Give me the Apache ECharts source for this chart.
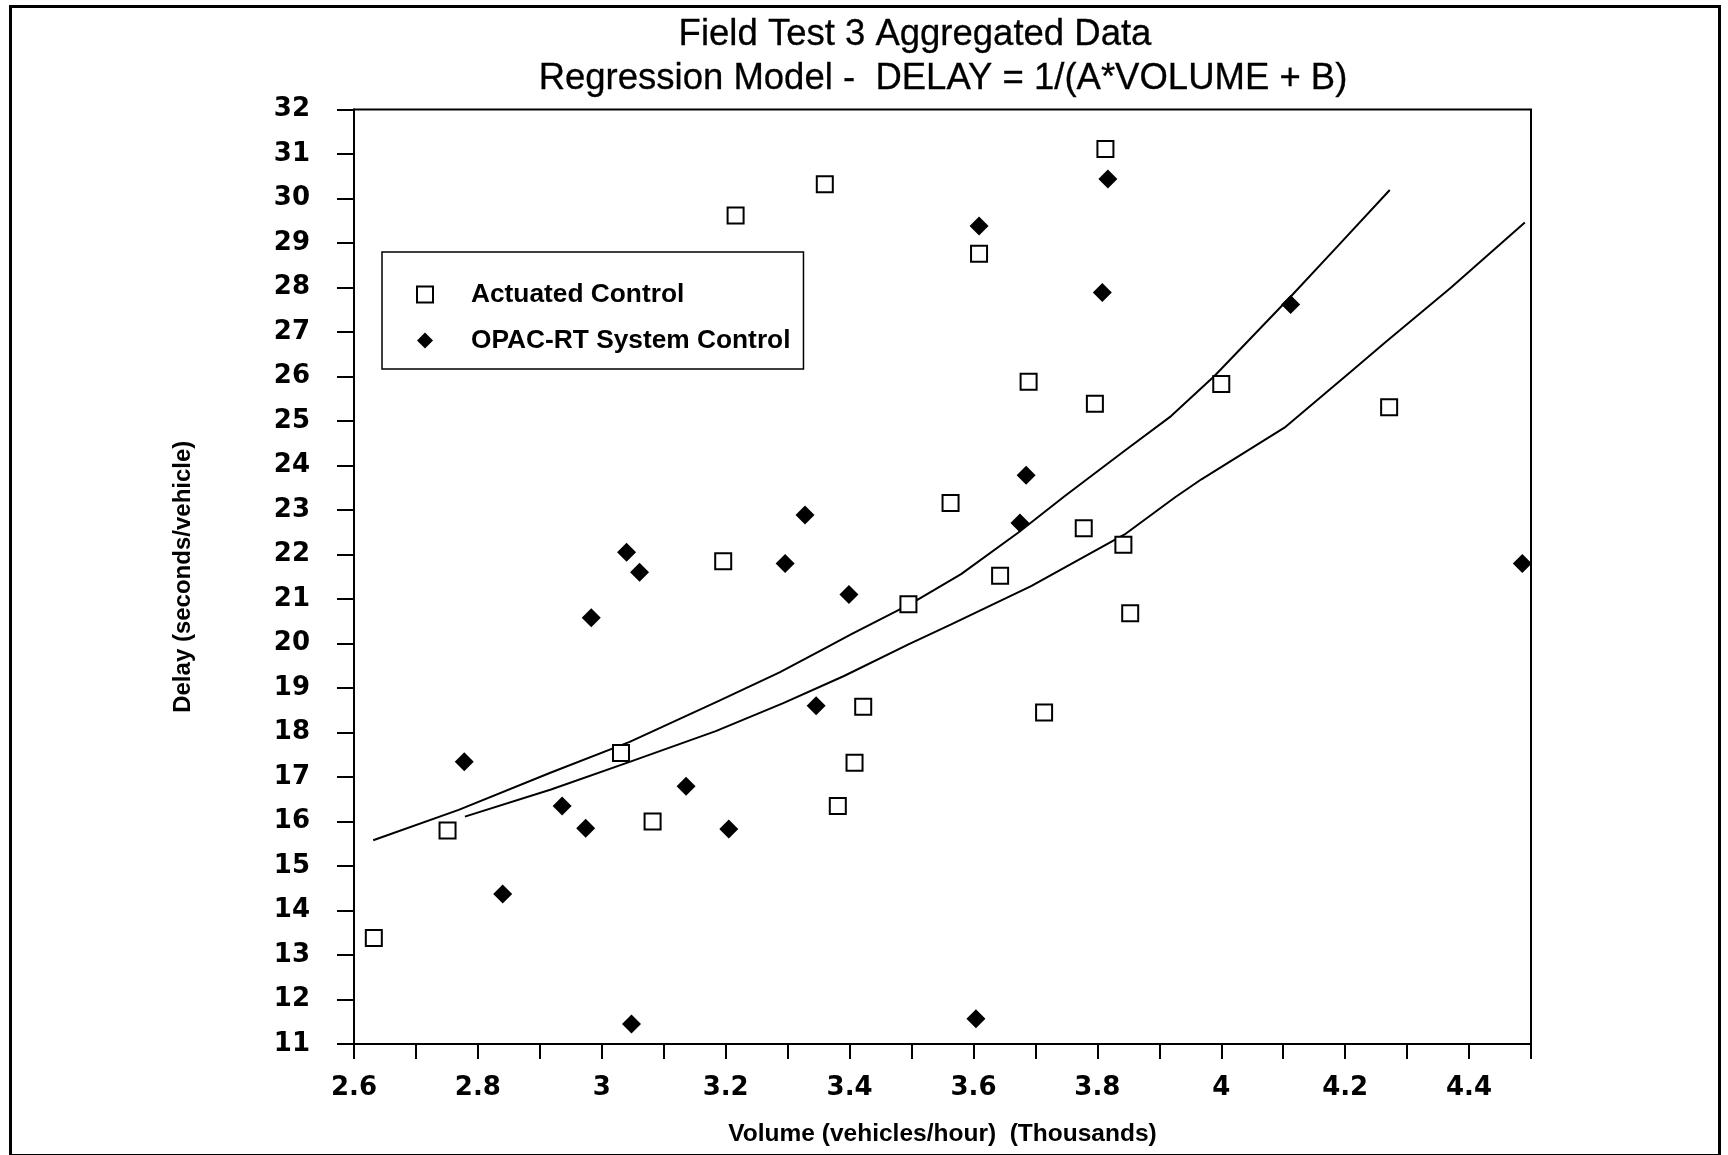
<!DOCTYPE html>
<html>
<head>
<meta charset="utf-8">
<script src="https://cdn.jsdelivr.net/npm/echarts@6/dist/echarts.min.js"></script>
<style>
html,body{margin:0;padding:0;background:#fff;}
#chart{width:1728px;height:1155px;}
</style>
</head>
<body>
<div id="chart"></div>
<script>
// ---- Data ----
const titleLine1 = 'Field Test 3 Aggregated Data';
const titleLine2 = 'Regression Model -  DELAY = 1/(A*VOLUME + B)';
const xAxisName = 'Volume (vehicles/hour)  (Thousands)';
const yAxisName = 'Delay (seconds/vehicle)';
const seriesNames = ['Actuated Control', 'OPAC-RT System Control'];

const actuatedVolume = [2.632,2.751,3.031,3.082,3.196,3.216,3.360,3.381,3.408,3.422,3.495,3.563,3.609,3.643,3.689,3.714,3.778,3.796,3.813,3.842,3.853,4.000,4.271];
const actuatedDelay  = [13.38,15.80,17.54,16.00,21.85,29.62,30.32,16.35,17.32,18.58,20.88,23.16,28.76,21.52,25.88,18.45,22.59,25.39,31.11,22.22,20.68,25.83,25.31];

const opacVolume = [2.778,2.840,2.936,2.974,2.983,3.040,3.048,3.061,3.136,3.205,3.296,3.328,3.346,3.399,3.604,3.609,3.675,3.685,3.808,3.817,4.112,4.486];
const opacDelay  = [17.34,14.37,16.35,15.85,20.58,22.05,11.45,21.60,16.79,15.83,21.80,22.89,18.60,21.10,11.57,29.38,22.71,23.78,27.89,30.44,27.62,21.80];

const actuatedFitVolume = [2.631,2.769,2.918,3.045,3.189,3.287,3.357,3.403,3.497,3.580,3.672,3.747,3.844,3.919,3.989,4.113,4.188,4.272];
const actuatedFitDelay  = [15.58,16.26,17.10,17.79,18.71,19.35,19.87,20.21,20.88,21.56,22.49,23.31,24.33,25.11,26.01,27.81,28.93,30.19];

const opacFitVolume = [2.779,2.918,3.045,3.184,3.293,3.391,3.495,3.564,3.693,3.844,3.925,3.968,4.102,4.210,4.264,4.371,4.490];
const opacFitDelay  = [16.11,16.72,17.34,18.03,18.66,19.27,19.98,20.43,21.29,22.45,23.28,23.69,24.85,26.12,26.76,28.00,29.46];

const xMin = 2.6, xMax = 4.5, xStep = 0.1;
const yMin = 11, yMax = 32, yStep = 1;

function pairs(xs, ys){ return xs.map((x,i)=>[x, ys[i]]); }

const chart = echarts.init(document.getElementById('chart'), null, {renderer:'canvas'});
const SANS = '"Liberation Sans", Arial, Helvetica, sans-serif';
const TICKF = '"DejaVu Sans", "Liberation Sans", sans-serif';

const option = {
  backgroundColor: '#ffffff',
  animation: false,
  title: [
    {text: titleLine1, left: 915, top: 35, textAlign: 'center', textVerticalAlign: 'middle', padding: 0,
     textStyle: {fontFamily: SANS, fontSize: 36.5, fontWeight: 'normal', color: '#000', textBorderColor: '#000', textBorderWidth: 0.3}},
    {text: titleLine2, left: 943, top: 79, textAlign: 'center', textVerticalAlign: 'middle', padding: 0,
     textStyle: {fontFamily: SANS, fontSize: 36.5, fontWeight: 'normal', color: '#000', textBorderColor: '#000', textBorderWidth: 0.3}}
  ],
  graphic: [
    {type: 'rect', left: 8, top: 4, shape: {x: 0, y: 0, width: 1709, height: 1149},
     style: {fill: 'none', stroke: '#000', lineWidth: 3}, silent: true, z: 0}
  ],
  legend: {
    orient: 'vertical',
    left: 382, top: 252,
    data: seriesNames,
    itemWidth: 16, itemHeight: 16, itemGap: 19,
    padding: [29, 13, 15, 34],
    borderColor: '#000', borderWidth: 1.5,
    backgroundColor: '#fff',
    selectedMode: false,
    textStyle: {fontFamily: SANS, fontSize: 26.3, fontWeight: 'bold', color: '#000', lineHeight: 27,
      padding: [0, 0, 0, 33]}
  },
  grid: {
    left: 354, right: 197, top: 109.5, bottom: 111,
    show: true, borderColor: '#000', borderWidth: 2, backgroundColor: 'transparent'
  },
  xAxis: {
    type: 'value', min: xMin, max: xMax, interval: xStep,
    name: xAxisName, nameLocation: 'middle', nameGap: 78,
    nameTextStyle: {fontFamily: SANS, fontSize: 24.5, fontWeight: 'bold', color: '#000'},
    axisLine: {show: true, onZero: false, lineStyle: {color: '#000', width: 2}},
    axisTick: {show: true, inside: false, length: 15, lineStyle: {color: '#000', width: 2}},
    splitLine: {show: false},
    axisLabel: {
      margin: 31, color: '#000', fontFamily: TICKF, fontSize: 26, fontWeight: 'bold',
      showMaxLabel: true, showMinLabel: true,
      formatter: function(v){
        const t = Math.round(v*10);
        if (t % 2 !== 0) return '';
        return String(t/10);
      }
    }
  },
  yAxis: {
    type: 'value', min: yMin, max: yMax, interval: yStep,
    name: yAxisName, nameLocation: 'middle', nameGap: 159, nameRotate: 90,
    nameTextStyle: {fontFamily: SANS, fontSize: 24, fontWeight: 'bold', color: '#000'},
    axisLine: {show: true, onZero: false, lineStyle: {color: '#000', width: 2}},
    axisTick: {show: true, inside: false, length: 17, lineStyle: {color: '#000', width: 2}},
    splitLine: {show: false},
    axisLabel: {margin: 44, color: '#000', fontFamily: TICKF, fontSize: 26, fontWeight: 'bold'}
  },
  series: [
    {
      name: 'Actuated fit', type: 'line', data: pairs(actuatedFitVolume, actuatedFitDelay),
      showSymbol: false, symbol: 'none', smooth: false, silent: true,
      lineStyle: {color: '#000', width: 2}, z: 2
    },
    {
      name: 'OPAC fit', type: 'line', data: pairs(opacFitVolume, opacFitDelay),
      showSymbol: false, symbol: 'none', smooth: false, silent: true,
      lineStyle: {color: '#000', width: 2}, z: 2
    },
    {
      name: seriesNames[0], type: 'scatter', data: pairs(actuatedVolume, actuatedDelay),
      symbol: 'rect', symbolSize: 16,
      itemStyle: {color: '#fff', borderColor: '#000', borderWidth: 2, opacity: 1}, z: 3
    },
    {
      name: seriesNames[1], type: 'scatter', data: pairs(opacVolume, opacDelay),
      symbol: 'diamond', symbolSize: 19,
      itemStyle: {color: '#000', borderColor: '#000', borderWidth: 0, opacity: 1}, z: 3
    }
  ]
};
chart.setOption(option);
</script>
</body>
</html>
